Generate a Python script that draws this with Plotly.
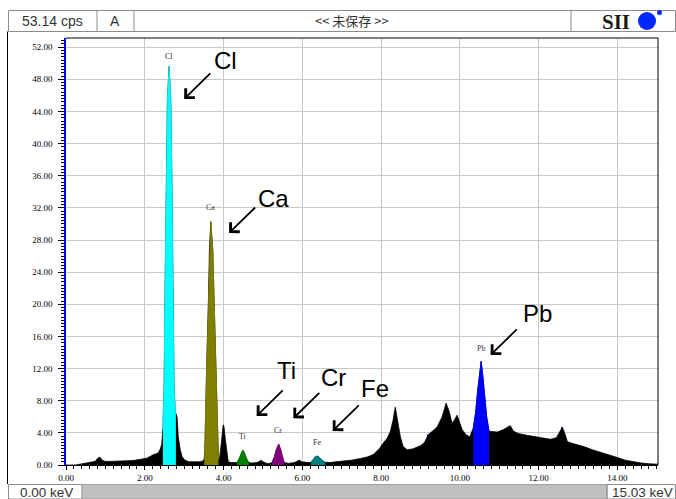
import plotly.graph_objects as go

# ---------------- data ----------------
full_scale_cps = 53.14
max_keV = 15.03

energy_keV = [
    0.00, 0.25, 0.35, 0.45, 0.55, 0.65, 0.74, 0.80, 0.86, 0.92, 1.00, 1.12, 1.30, 1.54, 1.70, 1.88, 2.05, 2.15, 2.22,
    2.30, 2.35, 2.39, 2.43, 2.46, 2.472, 2.49, 2.515, 2.541, 2.574, 2.617, 2.66, 2.693, 2.711, 2.744, 2.77, 2.79, 2.82, 2.85, 2.90, 2.95, 3.02,
    3.12, 3.23, 3.40, 3.48,
    3.51, 3.53, 3.549, 3.58, 3.616, 3.641, 3.676, 3.727, 3.76, 3.80, 3.829, 3.85, 3.87,
    3.89, 3.92, 3.95, 3.99, 4.01, 4.05, 4.09, 4.12, 4.20, 4.28,
    4.34, 4.40, 4.45, 4.49, 4.53, 4.58, 4.64,
    4.70, 4.85, 4.92, 4.96, 5.00, 5.10, 5.17,
    5.23, 5.29, 5.34, 5.40, 5.45, 5.50, 5.54,
    5.65, 5.80, 5.88, 5.93, 5.98, 6.10, 6.16,
    6.22, 6.28, 6.34, 6.40, 6.46, 6.52, 6.58,
    6.70, 6.85, 7.06, 7.25, 7.47, 7.65, 7.80, 7.95, 8.05, 8.15,
    8.23, 8.30, 8.36, 8.42, 8.49, 8.56, 8.66, 8.80, 9.00, 9.10,
    9.20, 9.30, 9.42, 9.55, 9.65, 9.72, 9.80, 9.86, 9.93, 10.00,
    10.06, 10.15, 10.25,
    10.34, 10.40, 10.45, 10.50, 10.54, 10.58, 10.63, 10.68, 10.74,
    10.85, 10.95, 11.10, 11.22, 11.28, 11.36, 11.50, 11.70, 11.97, 12.15,
    12.30, 12.45, 12.55, 12.60, 12.66, 12.73, 12.85, 13.00, 13.20, 13.36,
    13.50, 13.65, 13.85, 14.02, 14.20, 14.40, 14.60, 14.80, 15.03,
]
count_cps = [
    0.0, 0.0, 0.1, 0.2, 0.3, 0.35, 0.45, 0.8, 1.0, 0.6, 0.45, 0.45, 0.5, 0.5, 0.55, 0.7, 0.85, 1.1, 1.3,
    1.4, 1.6, 1.9, 2.6, 4.5, 6.0, 9.7, 22.2, 33.8, 45.4, 49.6, 45.4, 33.8, 22.2, 9.7, 7.0, 6.3, 6.0, 3.5, 1.9, 1.0, 0.6,
    0.4, 0.4, 0.4, 0.5,
    0.8, 3.0, 8.1, 14.0, 20.5, 26.7, 30.3, 26.7, 20.5, 13.0, 8.1, 3.0, 0.8,
    0.5, 1.5, 3.0, 5.0, 4.8, 3.0, 1.2, 0.4, 0.3, 0.3,
    0.3, 0.8, 1.5, 1.85, 1.5, 0.8, 0.3,
    0.25, 0.3, 0.5, 0.6, 0.4, 0.2, 0.2,
    0.3, 1.0, 1.9, 2.6, 1.9, 0.9, 0.3,
    0.2, 0.3, 0.5, 0.6, 0.4, 0.3, 0.3,
    0.35, 0.7, 1.05, 1.1, 0.8, 0.5, 0.35,
    0.3, 0.4, 0.5, 0.6, 0.8, 1.0, 1.3, 2.0, 2.7, 3.3,
    4.1, 5.5, 7.2, 5.5, 3.5, 2.3, 1.9, 2.0, 2.4, 2.8,
    3.8, 4.2, 4.7, 6.0, 7.7, 6.8, 5.2, 5.6, 6.2, 5.2,
    4.4, 3.8, 3.5,
    4.6, 6.5, 9.2, 11.8, 12.9, 11.2, 8.0, 6.0, 4.2,
    4.1, 4.1, 4.4, 4.7, 4.9, 4.2, 3.9, 3.7, 3.5, 3.3,
    3.2, 3.4, 4.3, 4.7, 4.0, 2.9, 2.7, 2.5, 2.2, 1.9,
    1.7, 1.5, 1.2, 0.9, 0.6, 0.4, 0.25, 0.15, 0.1,
]
assert len(energy_keV) == len(count_cps)

# element regions of interest (coloured parts of the spectrum)
roi_names = ["Cl", "Ca", "Ti", "Cr", "Fe", "Pb"]
roi_lo_keV = [2.46, 3.51, 4.34, 5.23, 6.22, 10.34]
roi_hi_keV = [2.79, 3.87, 4.64, 5.54, 6.58, 10.74]
roi_colors = ["#00ffff", "#808000", "#008000", "#800080", "#008080", "#0000ff"]

# thin blue marker channels
mark_keV = [1.86, 2.39, 2.79, 9.20, 11.36, 12.30, 12.60, 13.00, 13.34, 14.33]
mark_cps = [0.7, 1.9, 6.3, 3.8, 4.2, 3.2, 4.7, 2.5, 1.9, 0.4]
stripe_keV = [2.665]
stripe_cps = [33.6]

# small element labels above peaks
label_keV = [2.615, 3.656, 4.494, 5.382, 6.372, 10.536]
label_cps = [50.8, 32.0, 3.5, 4.25, 2.86, 14.56]

# big call-out labels and arrow heads
big_label_keV = [4.04, 5.28, 5.61, 6.78, 7.85, 11.98]
big_label_cps = [50.3, 33.2, 11.7, 10.95, 9.46, 18.9]
arrow_head_keV = [3.00, 4.14, 4.84, 5.77, 6.77, 10.78]
arrow_head_cps = [45.55, 28.87, 6.10, 5.81, 4.23, 13.69]

# ---------------- figure ----------------
W, H = 676, 499
L, R, T, B = 66, 18, 38, 34
PW, PH = W - L - R, H - T - B


def pxx(x):
    return (x - L) / PW


def pxy(y):
    return (H - B - y) / PH


fig = go.Figure()
fig.add_trace(go.Scatter(
    x=energy_keV, y=count_cps, mode="lines", fill="tozeroy",
    line=dict(color="black", width=0.8), fillcolor="black", hoverinfo="skip"))

for name, lo, hi, col in zip(roi_names, roi_lo_keV, roi_hi_keV, roi_colors):
    xs = [e for e in energy_keV if lo <= e <= hi]
    ys = [c for e, c in zip(energy_keV, count_cps) if lo <= e <= hi]
    fig.add_trace(go.Scatter(
        x=xs, y=ys, mode="lines", fill="tozeroy",
        line=dict(color=col, width=0.8), fillcolor=col, hoverinfo="skip", name=name))

fig.add_trace(go.Bar(x=mark_keV, y=mark_cps, width=0.028,
                     marker=dict(color="#0000ff", line=dict(width=0)), hoverinfo="skip"))
fig.add_trace(go.Bar(x=stripe_keV, y=stripe_cps, width=0.05,
                     marker=dict(color="#1e7bff", line=dict(width=0)), hoverinfo="skip"))

tickfont = dict(family="Liberation Serif", size=9, color="#000000")

fig.update_layout(
    width=W, height=H, autosize=False,
    margin=dict(l=L, r=R, t=T, b=B, pad=0),
    paper_bgcolor="white", plot_bgcolor="white",
    showlegend=False, barmode="overlay",
    xaxis=dict(range=[0, max_keV], tick0=0, dtick=2, tickformat=".2f",
               ticks="outside", ticklen=4, tickcolor="black", tickwidth=1,
               showgrid=True, gridcolor="#c8c8c8", gridwidth=1,
               showline=True, linecolor="black", linewidth=1, zeroline=False,
               minor=dict(dtick=0.2, ticklen=3, tickcolor="black", ticks="outside", showgrid=False),
               tickfont=tickfont, ticklabelstandoff=0, fixedrange=True),
    yaxis=dict(range=[0, full_scale_cps], tick0=0, dtick=4, tickformat=".2f",
               ticks="outside", ticklen=6, tickcolor="black", tickwidth=1,
               showgrid=True, gridcolor="#c8c8c8", gridwidth=1,
               showline=True, linecolor="#0000ff", linewidth=1.5, zeroline=False,
               minor=dict(dtick=0.4, ticklen=3, tickcolor="black", ticks="outside", showgrid=False),
               tickfont=tickfont, ticklabelstandoff=4, fixedrange=True),
)

shapes = []
# plot box top and right
shapes.append(dict(type="line", xref="paper", yref="paper", x0=0, x1=1, y0=1, y1=1,
                   line=dict(color="black", width=1)))
shapes.append(dict(type="line", xref="paper", yref="paper", x0=1, x1=1, y0=0, y1=1,
                   line=dict(color="black", width=1)))
# header boxes
hdr_top, hdr_bot = 10.5, 31.5
shapes.append(dict(type="rect", xref="paper", yref="paper", x0=pxx(8.5), x1=pxx(675.5),
                   y0=pxy(hdr_bot), y1=pxy(hdr_top), line=dict(color="#8c8c8c", width=1)))
for sx in [97, 134, 571]:
    shapes.append(dict(type="line", xref="paper", yref="paper", x0=pxx(sx), x1=pxx(sx),
                       y0=pxy(hdr_bot), y1=pxy(hdr_top), line=dict(color="#8c8c8c", width=1)))
# outer frame left line
shapes.append(dict(type="line", xref="paper", yref="paper", x0=pxx(7.5), x1=pxx(7.5),
                   y0=pxy(484), y1=pxy(hdr_bot), line=dict(color="black", width=1)))
# bottom bar
bar_top = 484.5
shapes.append(dict(type="rect", xref="paper", yref="paper", x0=pxx(8.5), x1=pxx(82),
                   y0=pxy(499), y1=pxy(bar_top), line=dict(color="#8c8c8c", width=1)))
shapes.append(dict(type="rect", xref="paper", yref="paper", x0=pxx(82), x1=pxx(607),
                   y0=pxy(499), y1=pxy(bar_top), fillcolor="#c0c0c0", line=dict(color="#a0a0a0", width=1)))
shapes.append(dict(type="rect", xref="paper", yref="paper", x0=pxx(607), x1=pxx(675.5),
                   y0=pxy(499), y1=pxy(bar_top), line=dict(color="#8c8c8c", width=1)))
# SII logo circle and dot
shapes.append(dict(type="circle", xref="paper", yref="paper", x0=pxx(638), x1=pxx(656),
                   y0=pxy(30), y1=pxy(12), fillcolor="#0028ff", line=dict(width=0)))
shapes.append(dict(type="circle", xref="paper", yref="paper", x0=pxx(657), x1=pxx(662),
                   y0=pxy(15), y1=pxy(10), fillcolor="#0028ff", line=dict(width=0)))
fig.update_layout(shapes=shapes)

ann = []
hdr_y = pxy(21)
hfont = dict(family="Liberation Sans", size=14, color="#333333")
ann.append(dict(xref="paper", yref="paper", x=pxx(52), y=hdr_y, text=f"{full_scale_cps:.2f} cps",
                showarrow=False, font=hfont, xanchor="center", yanchor="middle"))
ann.append(dict(xref="paper", yref="paper", x=pxx(115), y=hdr_y, text="A",
                showarrow=False, font=hfont, xanchor="center", yanchor="middle"))
ann.append(dict(xref="paper", yref="paper", x=pxx(352), y=hdr_y, text="<< 未保存 >>",
                showarrow=False, font=dict(family="Noto Sans CJK JP", size=13, color="#333333"),
                xanchor="center", yanchor="middle"))
ann.append(dict(xref="paper", yref="paper", x=pxx(616), y=pxy(21.5), text="<b>SII</b>",
                showarrow=False, font=dict(family="Liberation Serif", size=21, color="#1a1a1a"),
                xanchor="center", yanchor="middle"))
bfont = dict(family="Liberation Sans", size=13.5, color="#333333")
ann.append(dict(xref="paper", yref="paper", x=pxx(46), y=pxy(492.5), text="0.00 keV",
                showarrow=False, font=bfont, xanchor="center", yanchor="middle",
                borderpad=0))
ann.append(dict(xref="paper", yref="paper", x=pxx(642), y=pxy(492.5), text=f"{max_keV:.2f} keV",
                showarrow=False, font=bfont, xanchor="center", yanchor="middle",
                borderpad=0))

for name, ex, cy in zip(roi_names, label_keV, label_cps):
    ann.append(dict(x=ex, y=cy, xref="x", yref="y", text=name, showarrow=False,
                    font=dict(family="Liberation Serif", size=8, color="#333333"),
                    xanchor="center", yanchor="middle"))
for name, ex, cy, hx, hy in zip(roi_names, big_label_keV, big_label_cps, arrow_head_keV, arrow_head_cps):
    ann.append(dict(x=ex, y=cy, xref="x", yref="y", text=name, showarrow=False,
                    font=dict(family="Liberation Sans", size=24, color="black"),
                    xanchor="center", yanchor="middle"))
    ann.append(dict(x=hx, y=hy, xref="x", yref="y", text="", showarrow=True,
                    ax=27.6, ay=-27.0, arrowhead=4, arrowsize=1.4, arrowwidth=1.8,
                    arrowcolor="black", standoff=0))
fig.update_layout(annotations=ann)

fig.write_html("out.html", config={"displayModeBar": False},
               post_script="document.body.style.margin='0';")
